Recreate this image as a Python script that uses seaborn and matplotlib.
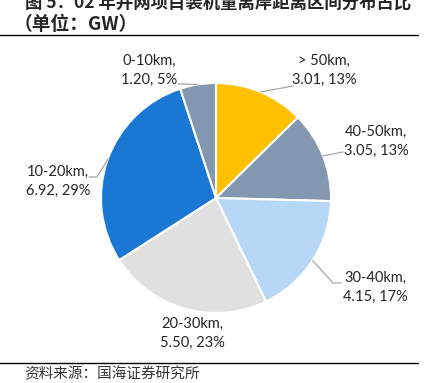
import numpy as np
import matplotlib.pyplot as plt
import seaborn as sns

sns.set_style("white")
plt.rcParams["font.family"] = ["Lato", "Noto Sans CJK SC", "DejaVu Sans"]

categories = ["> 50km", "40-50km", "30-40km", "20-30km", "10-20km", "0-10km"]
capacity_gw = [3.01, 3.05, 4.15, 5.50, 6.92, 1.20]
slice_colors = ["#FFC000", "#8497B0", "#B7D7F7", "#E0E0E0", "#1A78D4", "#8497B0"]

title_line1 = "图 5：02 年并网项目装机量离岸距离区间分布占比"
title_line2 = "（单位：GW）"
source_note = "资料来源：国海证券研究所"

W, H = 437, 383
# label centres and leader-line ends, in pixel coords (top-left origin)
label_pos = [(324, 70), (376, 141), (375, 287), (192, 333), (58, 181), (149, 70)]
leader_end = [(293, 86), (343, 152), [(333, 283), (341, 283)], None,
              [(97, 177), (89, 177)], (178, 84)]

fig = plt.figure(figsize=(W / 100, H / 100), dpi=100)
ax = fig.add_axes([0, 0, 1, 1])

cx, cy, r = 216, H - 198, 115
wedges, _ = ax.pie(
    capacity_gw,
    colors=slice_colors,
    startangle=90,
    counterclock=False,
    center=(cx, cy),
    radius=r,
    wedgeprops={"edgecolor": "white", "linewidth": 1.5},
    frame=True,
)
ax.set_xlim(0, W)
ax.set_ylim(0, H)
ax.set_aspect("equal")
ax.axis("off")

total = sum(capacity_gw)
for i, w in enumerate(wedges):
    pct = capacity_gw[i] / total * 100
    tx, ty = label_pos[i]
    ax.text(tx, H - ty, f"{categories[i]},\n{capacity_gw[i]:.2f}, {pct:.0f}%",
            ha="center", va="center", fontsize=10.5, color="#262626",
            linespacing=1.45)
    end = leader_end[i]
    if end is None:
        continue
    ang = np.deg2rad((w.theta1 + w.theta2) / 2)
    pts = [(cx + r * np.cos(ang), cy + r * np.sin(ang))]
    if isinstance(end, list):
        pts += [(x, H - y) for x, y in end]
    else:
        pts.append((end[0], H - end[1]))
    xs, ys = zip(*pts)
    ax.plot(xs, ys, color="#A6A6A6", lw=0.9)

# title, rules and source
cjk = ["Noto Sans CJK SC", "DejaVu Sans"]
fig.text(25 / W, 1 - 3 / H, title_line1, fontsize=12.5, fontweight="bold",
         family=cjk, va="center", ha="left")
fig.text(14 / W, 1 - 24 / H, title_line2, fontsize=13.5, fontweight="bold",
         family=cjk, va="center", ha="left")
ax.plot([0, 418], [H - 35, H - 35], color="black", lw=1.0)
ax.plot([0, 418], [H - 363, H - 363], color="black", lw=1.0)
fig.text(24 / W, 1 - 374 / H, source_note, fontsize=10.5,
         family=cjk, va="center", ha="left", color="#333333")

fig.savefig("out.png", dpi=100)
